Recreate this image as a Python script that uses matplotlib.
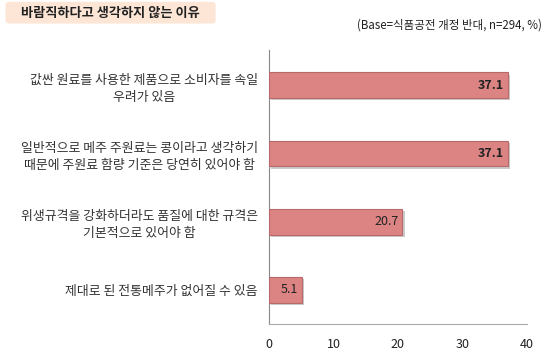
import matplotlib.pyplot as plt
from matplotlib.patches import FancyBboxPatch
import matplotlib.patheffects as pe

plt.rcParams['font.family'] = ['Noto Sans CJK KR', 'DejaVu Sans']

categories = ['값싼 원료를 사용한 제품으로 소비자를 속일\n우려가 있음',
              '일반적으로 메주 주원료는 콩이라고 생각하기\n때문에 주원료 함량 기준은 당연히 있어야 함',
              '위생규격을 강화하더라도 품질에 대한 규격은\n기본적으로 있어야 함',
              '제대로 된 전통메주가 없어질 수 있음']
values = [37.1, 37.1, 20.7, 5.1]
value_labels = ['37.1', '37.1', '20.7', '5.1']
bold_labels = [True, True, False, False]
xticks = [0, 10, 20, 30, 40]

fig = plt.figure(figsize=(5.5, 3.52), dpi=100)
ax = fig.add_axes([0.489, 0.08, 0.469, 0.778])

ypos = list(range(len(values)))
bars = ax.barh(ypos, values, height=0.38, color='#db8483', edgecolor='#b86a6a',
               linewidth=0.8, zorder=3)
for b in bars:
    b.set_path_effects([pe.SimplePatchShadow(offset=(1.5, -1.5), shadow_rgbFace='#999999', alpha=0.5),
                        pe.Normal()])

for y, v, lab, bold in zip(ypos, values, value_labels, bold_labels):
    ax.text(v - 0.6, y, lab, ha='right', va='center', fontsize=9,
            fontweight='bold' if bold else 'normal', color='#222222', zorder=4)

ax.set_ylim(len(values) - 0.5, -0.52)
ax.set_xlim(0, 40)
ax.set_xticks(xticks)
ax.set_yticks(ypos)
ax.set_yticklabels(categories, fontsize=9.3, multialignment='center', color='#333333',
                   linespacing=1.4)
ax.tick_params(axis='y', length=0, pad=8)
ax.tick_params(axis='x', length=0, pad=10, labelsize=9, labelcolor='#222222')
for s in ['top', 'right']:
    ax.spines[s].set_visible(False)
ax.spines['left'].set_color('#888888')
ax.spines['bottom'].set_color('#aaaaaa')

# title box
box = FancyBboxPatch((0.01, 0.933), 0.382, 0.062, boxstyle='round,pad=0,rounding_size=0.008',
                     transform=fig.transFigure, facecolor='#fde6d6', edgecolor='none')
fig.patches.append(box)
fig.text(0.2, 0.963, '바람직하다고 생각하지 않는 이유', ha='center', va='center',
         fontsize=9.5, fontweight='bold', color='#222222')
fig.text(0.985, 0.928, '(Base=식품공전 개정 반대, n=294, %)', ha='right', va='center',
         fontsize=8.3, color='#222222')

fig.savefig('out.png', dpi=100)
